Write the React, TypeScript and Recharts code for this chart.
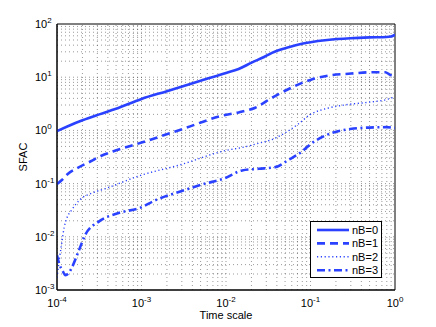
import React from "react";
import { LineChart, Line, XAxis, YAxis, ReferenceLine, Legend, ReferenceArea } from "recharts";

const FONT = "'Liberation Sans', Arial, sans-serif";
const BLUE = "#2a42ff";

// tick labels (decades)
const xTicks = [1e-4, 1e-3, 1e-2, 1e-1, 1];
const yTicks = [1e-3, 1e-2, 1e-1, 1, 10, 100];

// series
const x0 = [1e-4, 1.41e-4, 2e-4, 3.16e-4, 5e-4, 1e-3, 2e-3, 3.16e-3, 5e-3, 1e-2, 0.0141, 0.0204, 0.0282, 0.035, 0.055, 0.079, 0.1, 0.158, 0.295, 0.5, 0.79, 0.89, 1];
const y0 = [0.97, 1.24, 1.55, 2.0, 2.55, 3.9, 5.46, 6.84, 8.6, 12.0, 14.3, 19, 24, 28.7, 36.6, 42.5, 45.5, 50, 54, 56, 57, 58, 63];

const x1 = [1e-4, 1.15e-4, 1.34e-4, 1.76e-4, 2.48e-4, 3.35e-4, 4.57e-4, 1e-3, 3.16e-3, 0.009, 0.0141, 0.0222, 0.0357, 0.0552, 0.0891, 0.1, 0.16, 0.302, 0.545, 0.767, 0.865, 1];
const y1 = [0.098, 0.118, 0.151, 0.198, 0.26, 0.334, 0.4, 0.59, 1.08, 1.89, 2.18, 2.67, 4.19, 6.0, 8.4, 8.9, 10.7, 11.7, 12.4, 12.4, 11.2, 10.3];

const x2 = [1e-4, 1.064e-4, 1.138e-4, 1.211e-4, 1.303e-4, 1.493e-4, 1.871e-4, 2.576e-4, 3.873e-4, 5.37e-4, 8.91e-4, 2.88e-3, 1e-2, 0.0158, 0.0251, 0.0355, 0.0501, 0.0708, 0.1, 0.158, 0.251, 0.5, 0.79, 1];
const y2 = [0.0017, 0.0037, 0.0076, 0.0145, 0.022, 0.032, 0.05, 0.066, 0.082, 0.1, 0.136, 0.226, 0.42, 0.48, 0.58, 0.68, 0.9, 1.3, 2.0, 2.6, 3.0, 3.4, 3.8, 4.3];

const x3 = [1e-4, 1.07e-4, 1.15e-4, 1.26e-4, 1.38e-4, 1.51e-4, 1.82e-4, 2.16e-4, 3.12e-4, 5.37e-4, 9.6e-4, 1.52e-3, 2.88e-3, 5.44e-3, 9.8e-3, 0.0155, 0.0244, 0.0384, 0.055, 0.0794, 0.0986, 0.157, 0.295, 0.56, 0.79, 1];
const y3 = [0.0045, 0.003, 0.0024, 0.0019, 0.0021, 0.0027, 0.0056, 0.0109, 0.0193, 0.028, 0.035, 0.05, 0.071, 0.098, 0.127, 0.177, 0.19, 0.204, 0.28, 0.4, 0.54, 0.83, 1.06, 1.14, 1.15, 1.11];

const toRows = (xs: number[], ys: number[]) => xs.map((x, i) => ({ x, y: ys[i] }));

const series = [
  { name: "nB=0", data: toRows(x0, y0), dash: undefined, width: 2.6 },
  { name: "nB=1", data: toRows(x1, y1), dash: "8 5", width: 2.6 },
  { name: "nB=2", data: toRows(x2, y2), dash: "1.2 2.6", width: 1.4 },
  { name: "nB=3", data: toRows(x3, y3), dash: "8 3.5 2 3.5", width: 2.6 },
];

// grid lines at 1..9 x 10^k (MATLAB-style minor grid)
const decadeGrid = (from: number, to: number) => {
  const out: number[] = [];
  for (let k = from; k < to; k++) for (let m = 1; m < 10; m++) out.push(m * Math.pow(10, k));
  return out.slice(1);
};
const gridX = decadeGrid(-4, 0);
const gridY = decadeGrid(-3, 2);

const PowTick = ({ x, y, payload, axis }: any) => {
  const e = Math.round(Math.log10(payload.value));
  if (axis === "x") {
    return (
      <text x={x} y={y + 16.5} textAnchor="middle" fontSize={11} fontFamily={FONT} fill="#000">
        <tspan>10</tspan>
        <tspan dy={-5} fontSize={8}>{e}</tspan>
      </text>
    );
  }
  return (
    <text x={x - 22} y={y + 4} textAnchor="start" fontSize={11} fontFamily={FONT} fill="#000">
      <tspan>10</tspan>
      <tspan dy={-5} fontSize={8}>{e}</tspan>
    </text>
  );
};

const LegendBox = () => (
  <div style={{ width: 72, height: 57, border: "1px solid #000", background: "#fff", boxSizing: "border-box" }}>
    <svg width={70} height={55} style={{ display: "block" }}>
      {series.map((s, i) => {
        const ry = 8 + i * 13.4;
        return (
          <g key={s.name}>
            <line x1={6} x2={38} y1={ry} y2={ry} stroke={BLUE} strokeWidth={s.width} strokeDasharray={s.dash} />
            <text x={41} y={ry + 4} fontSize={11} fontFamily={FONT} fill="#000">{s.name}</text>
          </g>
        );
      })}
    </svg>
  </div>
);

export default function App() {
  return (
    <div style={{ position: "absolute", left: 0, top: 0, background: "#fff" }}>
      <LineChart width={436} height={327} margin={{ top: 24, right: 41, bottom: 7, left: 0 }}>
        <XAxis
          dataKey="x"
          type="number"
          scale="log"
          domain={[1e-4, 1]}
          ticks={xTicks}
          allowDataOverflow
          height={30}
          tickSize={0}
          tickMargin={0}
          axisLine={{ stroke: "#000" }}
          tick={(p: any) => <PowTick {...p} axis="x" />}
          label={{ value: "Time scale", position: "insideBottom", offset: 1.5, fontSize: 11, fontFamily: FONT, fill: "#000" }}
        />
        <YAxis
          type="number"
          scale="log"
          domain={[1e-3, 100]}
          ticks={yTicks}
          allowDataOverflow
          width={57}
          tickSize={0}
          tickMargin={0}
          axisLine={{ stroke: "#000" }}
          tick={(p: any) => <PowTick {...p} axis="y" />}
          label={{
            content: ({ viewBox }: any) => (
              <text
                x={27}
                y={viewBox.y + viewBox.height / 2}
                transform={`rotate(-90 27 ${viewBox.y + viewBox.height / 2})`}
                textAnchor="middle"
                fontSize={11}
                fontFamily={FONT}
                fill="#000"
              >
                SFAC
              </text>
            ),
          }}
        />
        {gridX.map((v) => (
          <ReferenceLine key={"gx" + v} x={v} stroke="#000" strokeOpacity={0.4} strokeDasharray="1 3" />
        ))}
        {gridY.map((v) => (
          <ReferenceLine key={"gy" + v} y={v} stroke="#000" strokeOpacity={0.4} strokeDasharray="1 3" />
        ))}
        {series.map((s) => (
          <Line
            key={s.name}
            data={s.data}
            dataKey="y"
            name={s.name}
            type="monotone"
            stroke={BLUE}
            strokeWidth={s.width}
            strokeDasharray={s.dash}
            dot={false}
            isAnimationActive={false}
          />
        ))}
        <ReferenceArea x1={1e-4} x2={1} y1={1e-3} y2={100} fill="none" stroke="#000" strokeWidth={1} ifOverflow="visible" />
        <Legend
          layout="vertical"
          align="center"
          verticalAlign="middle"
          wrapperStyle={{ left: 310, top: 221, width: 72, height: 57 }}
          content={() => <LegendBox />}
        />
      </LineChart>
    </div>
  );
}
